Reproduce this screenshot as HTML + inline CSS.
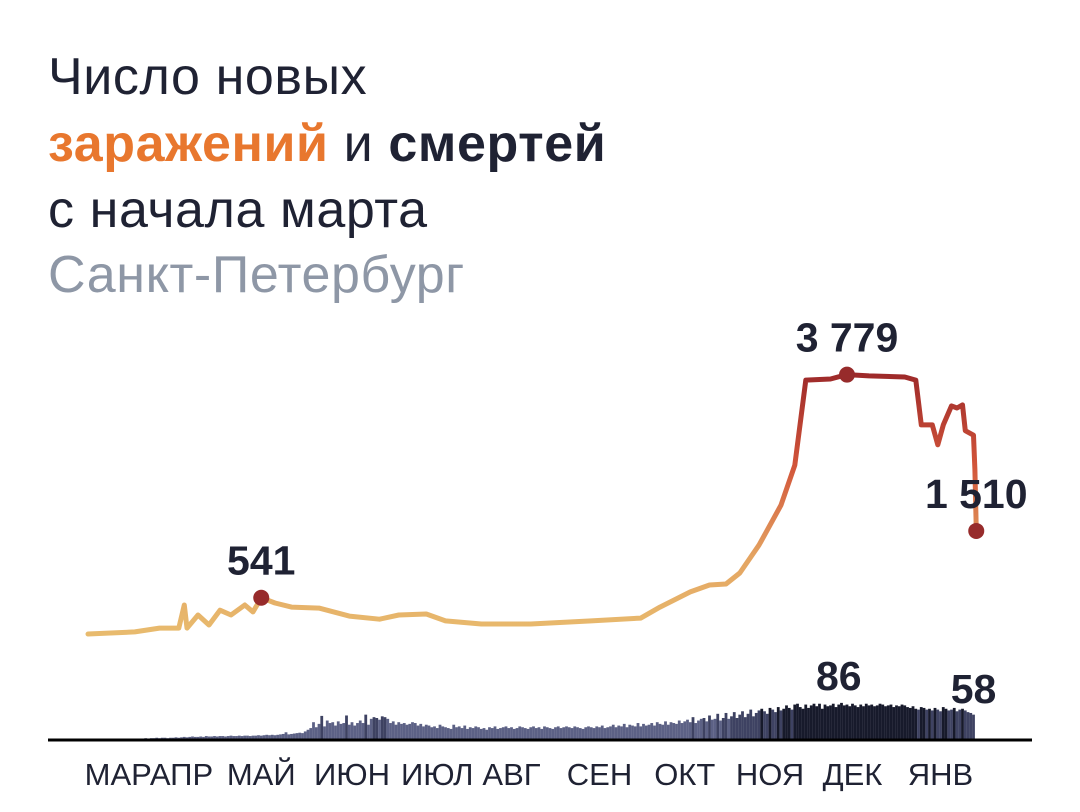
<!DOCTYPE html>
<html><head><meta charset="utf-8"><style>
body{margin:0;background:#fff;width:1080px;height:812px;overflow:hidden;font-family:"Liberation Sans","DejaVu Sans",sans-serif}
.t{position:absolute;left:48px;font-size:52px;letter-spacing:0.6px;color:#1f2233;white-space:nowrap;line-height:1}
</style></head><body>
<div class="t" style="top:51px">Число новых</div>
<div class="t" style="top:118px"><b style="color:#e8772e">заражений</b> и <b>смертей</b></div>
<div class="t" style="top:184px">с начала марта</div>
<div class="t" style="top:249px;color:#8e97a6">Санкт-Петербург</div>
<svg id="chart" width="1080" height="812" style="position:absolute;left:0;top:0">
<defs><linearGradient id="lg" gradientUnits="userSpaceOnUse" x1="0" y1="635" x2="0" y2="375">
<stop offset="0" stop-color="#e8bb6e"/><stop offset="0.3" stop-color="#e4a462"/><stop offset="0.65" stop-color="#d2553a"/><stop offset="1" stop-color="#9e2a2a"/></linearGradient></defs>
</svg>
<script>
const caseDays=[0,17,26,33,35,36,40,44,48,52,57,60,63,68,74,84,95,106,113,123,130,143,161,183,201,208,219,226,232,237,244,252,257,261,270,276,284,297,301,303,307,309,311,314,316,318,319,322,322.5,323];
const caseValues=[15,45,100,100,435,100,290,145,360,290,435,335,541,465,405,390,275,230,290,305,205,160,160,205,245,405,625,725,740,900,1305,1885,2465,3700,3715,3779,3760,3745,3700,3050,3050,2760,3050,3325,3295,3340,2965,2900,2400,1510];
const deaths=[0,0,0,0,0,0,0,0,0,0,0,0,0,0,0,0,0,1,0,1,1,2,1,2,2,3,2,3,3,2,3,
3,4,3,4,5,4,5,6,5,5,6,5,7,6,6,7,6,7,7,6,7,8,7,7,8,7,8,8,7,8,
8,9,8,9,10,9,10,9,10,11,12,16,11,12,13,14,15,14,18,22,26,40,28,36,55,30,44,38,40,32,42,
36,38,56,34,40,32,38,44,38,58,34,48,52,50,46,54,52,48,38,42,34,40,36,38,34,36,40,38,32,36,
30,34,32,28,30,26,34,30,28,26,24,34,28,30,26,32,24,28,26,30,28,24,26,22,28,26,30,24,26,28,30,
26,28,24,26,30,28,26,24,28,30,26,28,24,30,28,26,24,28,30,26,28,30,28,26,30,28,26,24,28,30,28,
26,30,28,32,26,28,30,34,28,32,30,36,28,34,32,30,38,30,36,32,34,38,32,40,36,34,42,34,40,38,
36,44,38,42,46,40,52,38,44,48,50,42,56,46,48,60,44,50,62,48,54,64,50,58,66,52,60,70,54,62,68,
72,66,60,74,70,64,76,68,72,80,74,70,82,84,76,72,82,74,80,84,78,84,72,82,78,80,84,76,82,86,
80,82,78,84,80,76,82,78,84,80,82,78,80,84,82,78,80,82,76,80,78,82,80,76,74,78,72,70,76,74,70,
72,68,74,70,66,76,72,68,70,74,66,70,72,68,64,62,58];
const monthLabels=["МАР","АПР","МАЙ","ИЮН","ИЮЛ","АВГ","СЕН","ОКТ","НОЯ","ДЕК","ЯНВ"];
const monthLabelDays=[11,34,63,96,127,154,186,217,248,278,310];
const caseMarks=[[12,"541"],[35,"3 779"],[49,"1 510"]];

const svg=document.getElementById('chart');const NS="http://www.w3.org/2000/svg";
const xs=d=>88+d*2.75;const yc=v=>635-v*0.0689;const yd=v=>739-v*0.42;
function mk(t,a){const e=document.createElementNS(NS,t);for(const k in a)e.setAttribute(k,a[k]);svg.appendChild(e);return e;}
deaths.forEach((v,i)=>{if(v<=0)return;
const r=mk('rect',{x:xs(i)-1.4,y:yd(v),width:2.8,height:v*0.42,fill:v>=72?'#171a2b':(v>=50?'#3e4262':'#5c6185')});

});
let d='';caseDays.forEach((dd,i)=>{d+=(i?'L':'M')+xs(dd).toFixed(1)+','+yc(caseValues[i]).toFixed(1);});
const p=mk('path',{d:d,fill:'none',stroke:'url(#lg)','stroke-width':5,'stroke-linejoin':'round','stroke-linecap':'round'});


caseMarks.forEach(m=>{const i=m[0];const cx=xs(caseDays[i]),cy=yc(caseValues[i]);
const c=mk('circle',{cx:cx,cy:cy,r:8,fill:'#972b2b'});


const t=mk('text',{x:cx,y:cy-23,'text-anchor':'middle','font-size':41,'font-weight':'bold',fill:'#1f2233','font-family':'Liberation Sans, sans-serif'});t.textContent=m[1];

});
[[273,"86",690],[322,"58",703]].forEach(m=>{const t=mk('text',{x:xs(m[0]),y:m[2],'text-anchor':'middle','font-size':41,'font-weight':'bold',fill:'#1f2233','font-family':'Liberation Sans, sans-serif'});t.textContent=m[1];

});
const ax=mk('line',{x1:48,x2:1032,y1:740,y2:740,stroke:'#000','stroke-width':3});


monthLabels.forEach((m,i)=>{const t=mk('text',{x:xs(monthLabelDays[i]),y:785,'text-anchor':'middle','font-size':31,fill:'#1f2233','font-family':'Liberation Sans, sans-serif'});t.textContent=m;

});
</script>
</body></html>
